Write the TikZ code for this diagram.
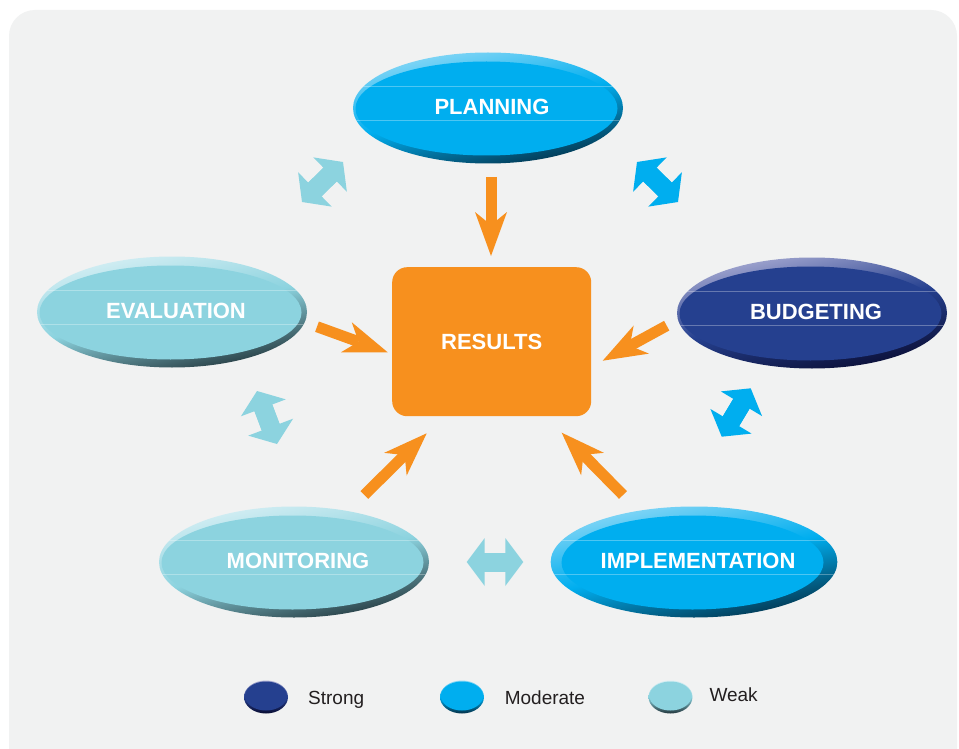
\documentclass[tikz,border=0pt]{standalone}
\usepackage{fontspec}
\setmainfont{Liberation Sans}
\usetikzlibrary{arrows.meta,shapes.geometric}
\definecolor{bgC}{HTML}{F1F2F2}
\definecolor{orC}{HTML}{F7901E}
\definecolor{modC}{HTML}{00AEEF}
\definecolor{modL}{HTML}{8AD8F6}
\definecolor{modD}{HTML}{043149}
\definecolor{strC}{HTML}{25408F}
\definecolor{strL}{HTML}{A7AAD2}
\definecolor{strD}{HTML}{0A0D33}
\definecolor{wkC}{HTML}{8CD3DF}
\definecolor{wkL}{HTML}{D6EFF4}
\definecolor{wkD}{HTML}{22363C}
\definecolor{txtC}{HTML}{231F20}
\tikzset{
  bevel/.style n args={3}{ellipse, inner sep=0pt, minimum width=270pt, minimum height=111pt,
    top color=#1, bottom color=#3, middle color=#2, shading angle=12,
    text=white, text depth=3pt, font=\bfseries\fontsize{22}{24}\selectfont,
    path picture={
      \fill[#2] ([xshift=-1.5pt,yshift=-0.5pt]path picture bounding box.center) ellipse [x radius=131pt, y radius=47pt];
      \draw[white, opacity=.3, line width=.6pt] ([yshift=21.3pt]path picture bounding box.center) +(-140pt,0) -- +(140pt,0);
      \draw[white, opacity=.3, line width=.6pt] ([yshift=-12pt]path picture bounding box.center) +(-140pt,0) -- +(140pt,0);
    }},
  strongE/.style={bevel={strL}{strC}{strD}},
  modE/.style={bevel={modL}{modC}{modD}},
  weakE/.style={bevel={wkL}{wkC}{wkD}},
  legE/.style n args={3}{ellipse, inner sep=0pt, minimum width=44pt, minimum height=33pt,
    top color=#1, bottom color=#3, middle color=#2,
    path picture={
      \fill[#2] ([yshift=1pt]path picture bounding box.center) ellipse [x radius=21pt, y radius=14.5pt];
    }},
  legtxt/.style={anchor=base west, inner sep=0pt, text=txtC, font=\fontsize{19}{21}\selectfont},
  res/.style={rectangle, rounded corners=15pt, fill=orC, minimum width=199pt, minimum height=149pt,
    text=white, font=\bfseries\fontsize{22}{24}\selectfont},
  orarrow/.style={draw=orC, line width=11pt, -{Stealth[length=44pt, width=32pt, inset=13pt, line width=0pt 0 0]}},
  dblarrow/.style={draw=#1, line width=19pt,
    {Triangle[length=18pt, width=48pt, line width=0pt 0 0]}-{Triangle[length=18pt, width=48pt, line width=0pt 0 0]}},
  dblshaft/.style={draw=#1, line width=19pt, shorten <=10pt, shorten >=10pt}
}
\begin{document}
\begin{tikzpicture}[x=1pt,y=-1pt]
\useasboundingbox (0,0) rectangle (959,749);
\fill[white] (0,0) rectangle (959,749);
\fill[bgC, rounded corners=26pt] (9,10) rectangle (957,790);

% main nodes
\node[res] (results) at (491.7,341.7) {RESULTS};
\node[modE] (planning) at (488,108) {\hspace*{8pt}PLANNING};
\node[strongE] (budgeting) at (812,313) {\hspace*{8pt}BUDGETING};
\node[weakE] (evaluation) at (172,312) {\hspace*{8pt}EVALUATION};
\node[weakE] (monitoring) at (294,562) {\hspace*{8pt}MONITORING};
\node[modE] (implementation) at (694,562) {\hspace*{8pt}IMPLEMENTATION};

% orange arrows towards results
\coordinate (pA) at (491,177);   \coordinate (pB) at (491,256);
\coordinate (eA) at (317,326.7); \coordinate (eB) at (387.7,352.3);
\coordinate (bA) at (666.7,325.7); \coordinate (bB) at (602.7,360.7);
\coordinate (mA) at (364.3,495); \coordinate (mB) at (426.7,433.3);
\coordinate (iA) at (623,495);   \coordinate (iB) at (561.7,432.7);
\draw[orarrow] (pA) -- (pB);
\draw[orarrow] (eA) -- (eB);
\draw[orarrow] (bA) -- (bB);
\draw[orarrow] (mA) -- (mB);
\draw[orarrow] (iA) -- (iB);

% double arrows between neighbours
\coordinate (peA) at (343,162); \coordinate (peB) at (302,202);
\coordinate (pbA) at (637,162); \coordinate (pbB) at (678,202);
\coordinate (emA) at (257,391); \coordinate (emB) at (277,444);
\coordinate (biA) at (750.7,388.3); \coordinate (biB) at (721.7,436.7);
\coordinate (miA) at (466.7,562); \coordinate (miB) at (523.3,562);
\draw[dblarrow=wkC] (peA) -- (peB);
\draw[dblshaft=wkC] (peA) -- (peB);
\draw[dblarrow=modC] (pbA) -- (pbB);
\draw[dblshaft=modC] (pbA) -- (pbB);
\draw[dblarrow=wkC] (emA) -- (emB);
\draw[dblshaft=wkC] (emA) -- (emB);
\draw[dblarrow=modC] (biA) -- (biB);
\draw[dblshaft=modC] (biA) -- (biB);
\draw[dblarrow=wkC] (miA) -- (miB);
\draw[dblshaft=wkC] (miA) -- (miB);

% legend
\node[legE={strL}{strC}{strD}] (lgS) at (266,697) {};
\node[legE={modL}{modC}{modD}] (lgM) at (462,697) {};
\node[legE={wkL}{wkC}{wkD}] (lgW) at (670.5,697) {};
\node[legtxt] (ltS) at (308,704) {Strong};
\node[legtxt] (ltM) at (504.6,704) {Moderate};
\node[legtxt] (ltW) at (709.3,701) {Weak};
\end{tikzpicture}
\end{document}
